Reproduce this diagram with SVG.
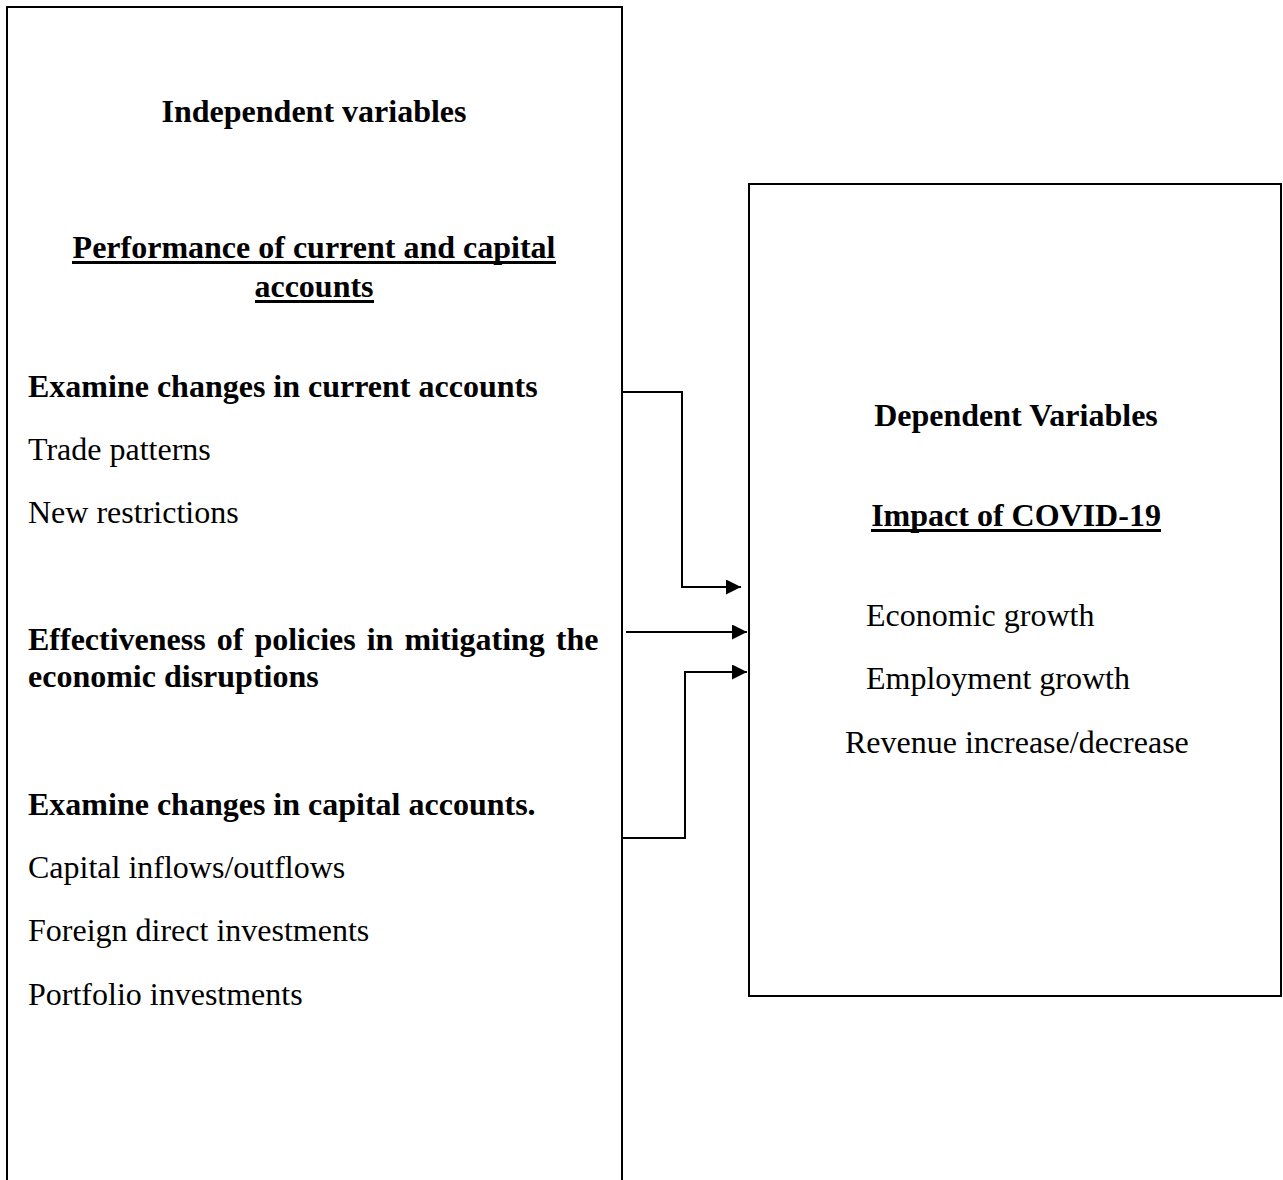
<svg xmlns="http://www.w3.org/2000/svg" width="1283" height="1180" viewBox="0 0 1283 1180">
<style>
.box{fill:#fff;stroke:#000;stroke-width:2}
text{font-family:"Liberation Serif","Times New Roman",serif;font-size:32px;fill:#000}
.b{font-weight:bold}
.c{text-anchor:middle}
.ul{stroke:#000;stroke-width:3}
.con{fill:none;stroke:#000;stroke-width:2}
</style>
<defs>
<marker id="arr" markerUnits="userSpaceOnUse" markerWidth="16" markerHeight="16" refX="15" refY="7.5" orient="auto">
<path d="M0,0 L15,7.5 L0,15 z" fill="#000"/>
</marker>
</defs>
<rect width="1283" height="1180" fill="#fff"/>
<g id="independent">
<rect class="box" x="7" y="7" width="615" height="1200"/>
<text class="b c" x="314" y="122">Independent variables</text>
<text class="b c" x="314" y="258">Performance of current and capital</text>
<line class="ul" x1="72" y1="262.5" x2="556" y2="262.5"/>
<text class="b c" x="314" y="297">accounts</text>
<line class="ul" x1="255" y1="301.5" x2="374" y2="301.5"/>
<text class="b" x="28" y="397">Examine changes in current accounts</text>
<text x="28" y="460">Trade patterns</text>
<text x="28" y="523">New restrictions</text>
<text class="b" x="28" y="650" word-spacing="3">Effectiveness of policies in mitigating the</text>
<text class="b" x="28" y="687">economic disruptions</text>
<text class="b" x="28" y="815">Examine changes in capital accounts.</text>
<text x="28" y="878">Capital inflows/outflows</text>
<text x="28" y="941">Foreign direct investments</text>
<text x="28" y="1005">Portfolio investments</text>
</g>
<g id="dependent">
<rect class="box" x="749" y="184" width="532" height="812"/>
<text class="b c" x="1016" y="426">Dependent Variables</text>
<text class="b c" x="1016" y="526">Impact of COVID-19</text>
<line class="ul" x1="871" y1="530.5" x2="1161" y2="530.5"/>
<text x="866" y="626">Economic growth</text>
<text x="866" y="689">Employment growth</text>
<text x="845" y="753">Revenue increase/decrease</text>
</g>
<g id="connectors">
<path class="con" d="M623,392 H682 V587 H741" marker-end="url(#arr)"/>
<path class="con" d="M626,632 H747" marker-end="url(#arr)"/>
<path class="con" d="M623,838 H685 V672 H747" marker-end="url(#arr)"/>
</g>
</svg>
